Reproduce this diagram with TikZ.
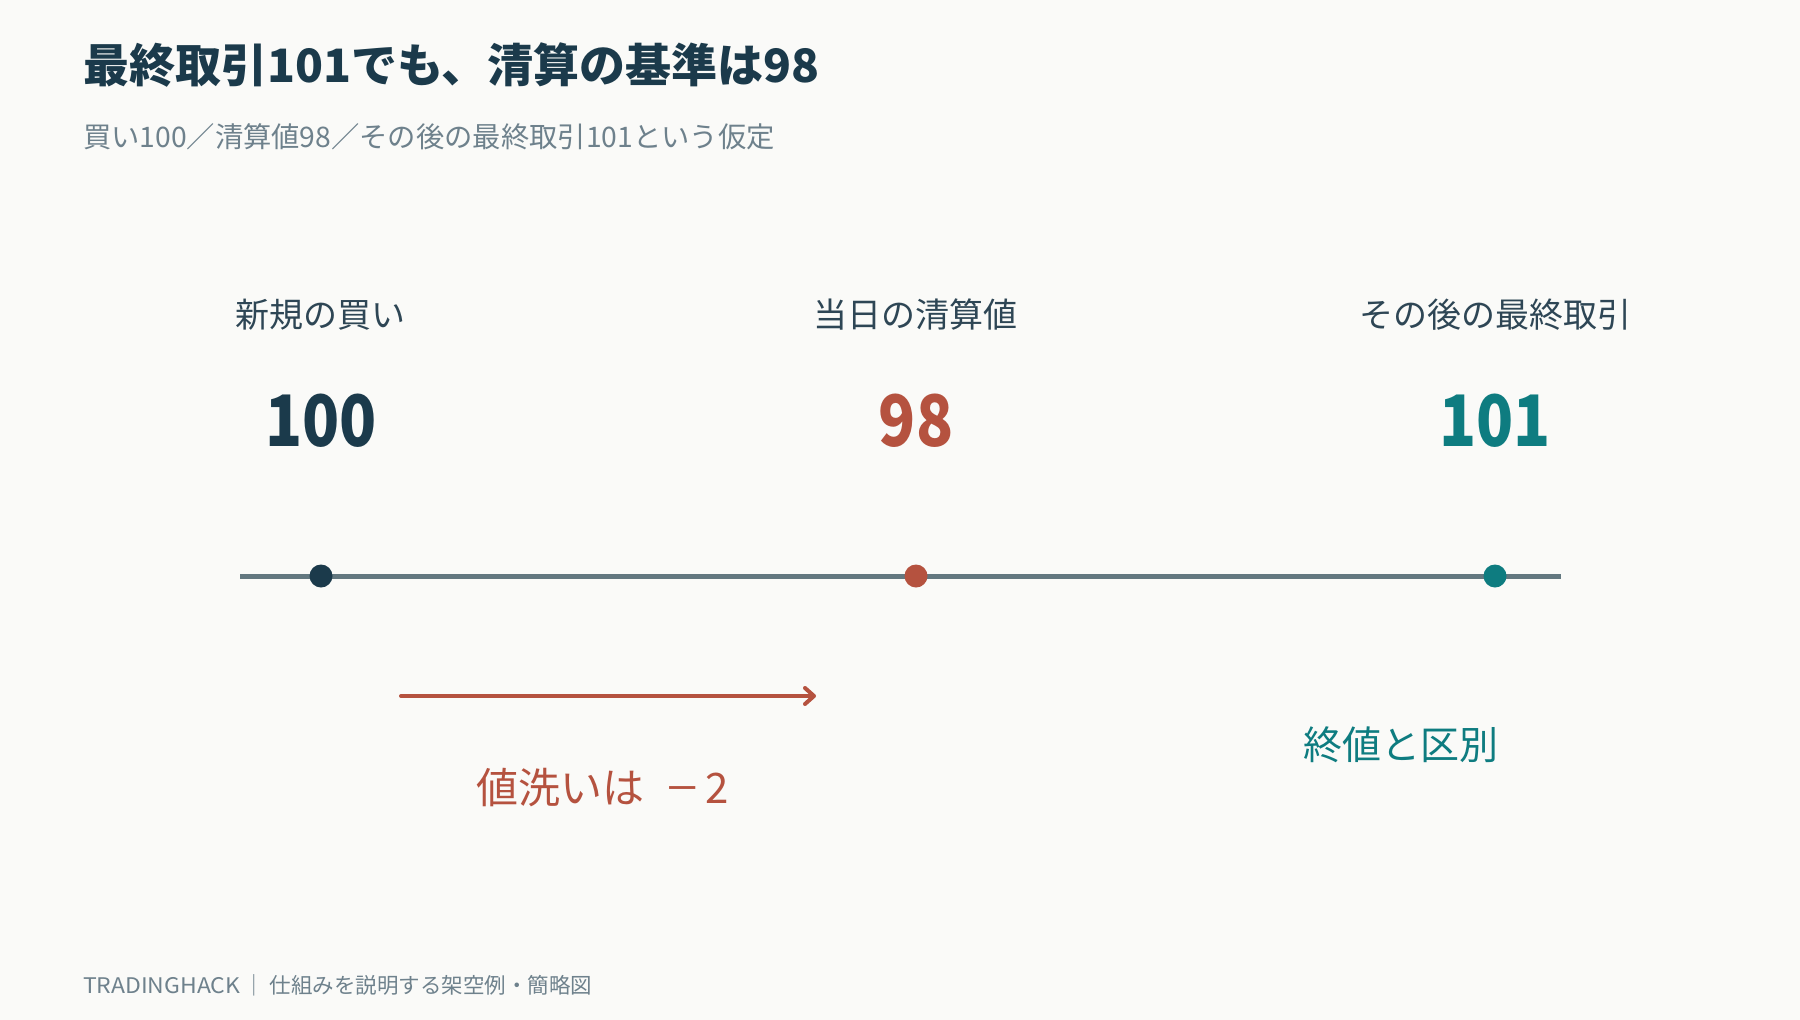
\documentclass[tikz,border=0pt]{standalone}
\usepackage{fontspec}
\usepackage{graphicx}
\setmainfont{Noto Sans CJK JP}
\usetikzlibrary{arrows.meta}
\definecolor{bgc}{HTML}{FAFAF8}
\definecolor{navy}{HTML}{1B3A4B}
\definecolor{subg}{HTML}{6E818C}
\definecolor{labc}{HTML}{2E4655}
\definecolor{redc}{HTML}{B5523F}
\definecolor{teal}{HTML}{0E7C80}
\definecolor{linec}{HTML}{637880}
\newcommand{\narrownum}[1]{\scalebox{0.86}[1]{#1}}
\tikzset{
  txt/.style={inner sep=0pt, outer sep=0pt},
  lab/.style={txt, anchor=base, text=labc, font=\fontsize{34}{40}\selectfont},
  bignum/.style={txt, anchor=base, font=\fontsize{71}{78}\selectfont\bfseries},
  dot/.style={circle, inner sep=0pt, minimum size=23pt},
}
\begin{document}
\begin{tikzpicture}[x=1pt, y=-1pt]
\fill[bgc] (0,0) rectangle (1800,1020);
\useasboundingbox (0,0) rectangle (1800,1020);
% title
\node[txt, anchor=base west, text=navy, font=\fontsize{46}{52}\selectfont\bfseries] (title) at (83,82) {最終取引101でも、清算の基準は98};
\node[txt, anchor=base west, text=subg, font=\fontsize{28.3}{34}\selectfont] (sub) at (83,147) {買い100／清算値98／その後の最終取引101という仮定};
% labels
\node[lab] (l1) at (320,327) {新規の買い};
\node[lab] (l2) at (915,327) {当日の清算値};
\node[lab] (l3) at (1495,327) {その後の最終取引};
% numbers
\node[bignum, text=navy] (n1) at (321,446) {\narrownum{100}};
\node[bignum, text=redc] (n2) at (916,446) {\narrownum{98}};
\node[bignum, text=teal] (n3) at (1495,446) {\narrownum{101}};
% timeline
\coordinate (ls) at (240,576);
\coordinate (le) at (1561,576);
\draw[linec, line width=5pt] (ls) -- (le);
\node[dot, fill=navy] (d1) at (321,576) {};
\node[dot, fill=redc] (d2) at (916,576) {};
\node[dot, fill=teal] (d3) at (1495,576) {};
% arrow
\coordinate (as) at (401,696);
\coordinate (ae) at (816,696);
\draw[redc, line width=4pt, line cap=round, -{Straight Barb[length=9pt, width=16pt, line cap=round, line join=round]}] (as) -- (ae);
\node[txt, anchor=base west, text=redc, font=\fontsize{42}{48}\selectfont] (mtm) at (476,803) {値洗いは\hspace{23pt}\scalebox{1.3}[1]{−}\hspace{8pt}2};
\node[txt, anchor=base, text=teal, font=\fontsize{39}{46}\selectfont] (dist) at (1401,759) {終値と区別};
% footer
\node[txt, anchor=base west, text=subg, font=\fontsize{21.5}{26}\selectfont] (foot) at (83,993) {\scalebox{1.07}[1]{TRADINGHACK}\hspace{3pt}｜\hspace{5pt}仕組みを説明する架空例・簡略図};
\end{tikzpicture}
\end{document}
